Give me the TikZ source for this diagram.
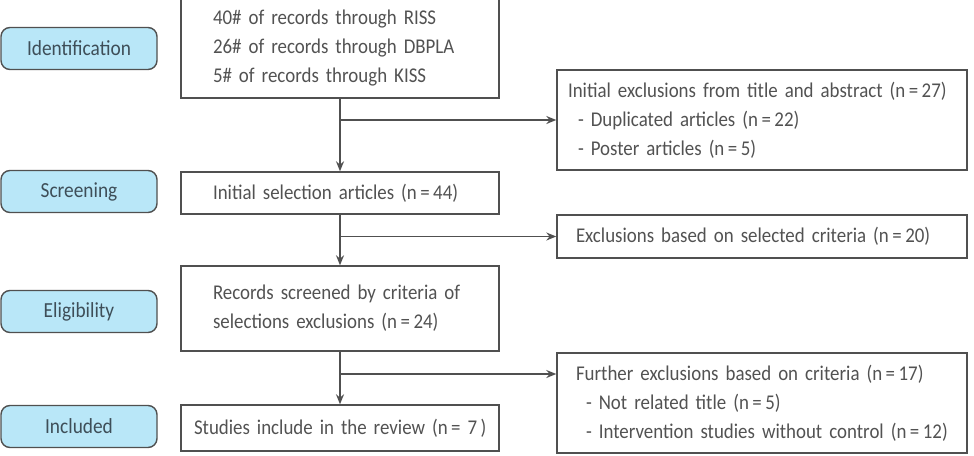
\documentclass[tikz,border=0pt]{standalone}
\usepackage{fontspec}
\setmainfont{Carlito}[FakeStretch=0.9, WordSpace=0.7]
\usetikzlibrary{arrows.meta}
\definecolor{pillblue}{HTML}{B9E7F8}
\definecolor{inkgray}{HTML}{525252}
\definecolor{pillink}{HTML}{3E4E58}
\definecolor{linegray}{HTML}{505050}
\begin{document}
\begin{tikzpicture}[
		x=1pt, y=-1pt,
		stage/.style={rectangle, rounded corners=9pt, draw=linegray, line width=1.4pt, fill=pillblue,
			minimum width=156pt, minimum height=42pt, inner sep=0pt, text=pillink,
			font=\fontsize{21.5}{29}\selectfont},
		box/.style={rectangle, draw=linegray, line width=1.4pt, align=left, inner ysep=0pt,
			text=inkgray, font=\fontsize{21}{29}\selectfont},
		arr/.style={draw=linegray, line width=1.4pt, -{Stealth[length=10pt,width=8pt]}},
	]
	\useasboundingbox (0,0) rectangle (974,455);

	% stage pills
	\node[stage] (sid)  at (79, 48.5)  {Identification};
	\node[stage] (sscr) at (79, 191.5) {Screening};
	\node[stage] (selg) at (79, 311.5) {Eligibility};
	\node[stage] (sinc) at (79, 426.5) {Included};

	% main column
	\node[box, text width=254pt, inner xsep=32pt, minimum height=100pt] (rec) at (340, 48)
		{40\# of records through RISS\\26\# of records through DBPLA\\5\# of records through KISS};
	\node[box, text width=254pt, inner xsep=32pt, minimum height=42pt] (sel) at (340, 193)
		{\mbox{Initial selection articles (n\,=\,44)}};
	\node[box, text width=254pt, inner xsep=32pt, minimum height=85pt] (elg) at (340, 308.5)
		{\mbox{Records screened by criteria of}\\\mbox{selections exclusions (n\,=\,24)}};
	\node[box, text width=292pt, inner xsep=13pt, minimum height=46pt] (inc) at (340, 428)
		{\mbox{Studies include in the review (n\,=~7\,)}};

	% exclusion column
	\node[box, text width=388pt, inner xsep=11pt, minimum height=100pt] (ex1) at (762, 120)
		{\mbox{Initial exclusions from title and abstract (n\,=\,27)}\\
		\hspace*{10pt}- Duplicated articles (n\,=\,22)\\
		\hspace*{10pt}- Poster articles (n\,=\,5)};
	\node[box, text width=372pt, inner xsep=19pt, minimum height=43pt] (ex2) at (762, 236.5)
		{\mbox{Exclusions based on selected criteria (n\,=\,20)}};
	\node[box, text width=372pt, inner xsep=19pt, minimum height=100pt] (ex3) at (762, 403)
		{\mbox{Further exclusions based on criteria (n\,=\,17)}\\
		\hspace*{10pt}- Not related title (n\,=\,5)\\
		\mbox{\hspace*{10pt}- Intervention studies without control (n\,=\,12)}};

	% branch points
	\coordinate (b1) at (340, 120);
	\coordinate (b2) at (340, 236.5);
	\coordinate (b3) at (340, 374);

	% flow down
	\draw[arr] (rec) -- (sel);
	\draw[arr] (sel) -- (elg);
	\draw[arr] (elg) -- (inc);

	% exclusions
	\draw[arr] (b1) -- (ex1);
	\draw[arr] (b2) -- (ex2);
	\draw[arr] (b3) -- (b3 -| ex3.west);
\end{tikzpicture}
\end{document}
